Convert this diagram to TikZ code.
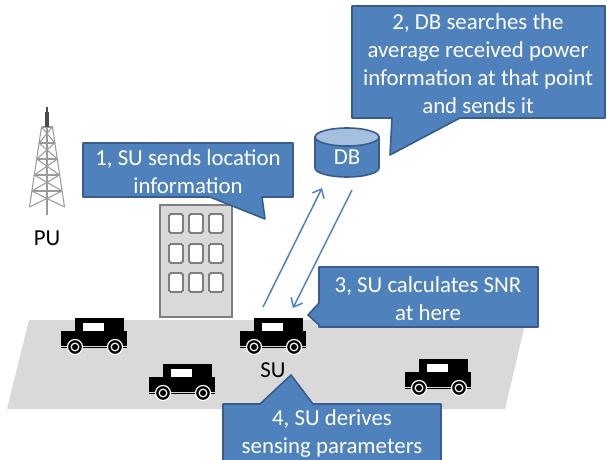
\documentclass[tikz,border=0pt]{standalone}
\usepackage{fontspec}
\setmainfont{Carlito}
\usetikzlibrary{arrows.meta}

\definecolor{boxblue}{HTML}{4F81BD}
\definecolor{boxedge}{HTML}{385D8A}
\definecolor{dbtop}{HTML}{A7BFDE}
\definecolor{roadgray}{HTML}{D9D9D9}
\definecolor{wallgray}{HTML}{7F7F7F}
\definecolor{towergray}{HTML}{9A9A9A}

\tikzset{
    callout/.style={fill=boxblue, draw=boxedge, line width=0.9pt, line join=round},
    boxtext/.style={text=white, align=center, font=\fontsize{13}{15.9}\selectfont},
    tag/.style={font=\fontsize{13}{15.9}\selectfont},
    window/.style={fill=white, draw=wallgray, line width=1.1pt, rounded corners=1pt},
    link/.style={draw=boxblue, line width=0.85pt, -{Straight Barb[length=1.5mm,width=2.6mm]}},
    car/.pic={
        \fill (14,0) rectangle (63,13);
        \fill (0,13) rectangle (66,27.5);
        \fill[white] (22,5) rectangle (43,13);
        \draw[line width=0.7pt] (0,29.8) -- (66,29.8);
        \foreach \w in {14,54} {
            \filldraw[fill=black, draw=white, line width=0.7pt] (\w,29) circle[radius=7.5];
            \draw[white, line width=0.7pt] (\w,29) circle[radius=3.8];
        }
    }
}

\begin{document}
\begin{tikzpicture}[x=0.02cm, y=-0.02cm]
        \useasboundingbox (0,0) rectangle (607,459);
        \clip (0,0) rectangle (607,459);

        %%%%%%%%%% Road %%%%%%%%%%
        \fill[roadgray] (29,320) -- (526,320) -- (505,409) -- (7,409) -- cycle;

        %%%%%%%%%% Tower %%%%%%%%%%
        \begin{scope}[draw=towergray, line width=0.6pt]
            \draw (41.5,127) -- (29.5,207);
            \draw (52.5,127) -- (64.5,207);
            \draw (47,127) -- (47,215);
            \foreach \y/\h/\yy/\hh in {127/5.5/143/7.9, 143/7.9/159/10.3, 159/10.3/175/12.7,
                                       175/12.7/191/15.1, 191/15.1/207/17.5} {
                \draw (47-\h,\y) -- (47+\h,\y);
                \draw (47-\h,\y) -- (47+\hh,\yy);
                \draw (47+\h,\y) -- (47-\hh,\yy);
            }
        \end{scope}
        \fill[black!70] (45,112) rectangle (49,127);
        \draw[black!70, line width=0.6pt] (47,107) -- (47,112);
        \node[tag] (pu) at (47,238) {PU};

        %%%%%%%%%% Building %%%%%%%%%%
        \filldraw[fill=roadgray, draw=wallgray, line width=1.1pt] (160,205) rectangle (232,317);
        \foreach \x in {169,189,209}
            \foreach \y in {214,244,273}
                \draw[window] (\x,\y) rectangle ++(14,19);

        %%%%%%%%%% Cars %%%%%%%%%%
        \pic at (61,318) {car};
        \pic at (240,318) {car};
        \pic at (149,364) {car};
        \pic at (405,359) {car};
        \node[tag] (su) at (273,370) {SU};

        %%%%%%%%%% Database %%%%%%%%%%
        \filldraw[fill=boxblue, draw=boxedge, line width=0.9pt]
            (315,137) -- (315,168) arc[start angle=180, end angle=0, x radius=32, y radius=9]
            -- (379,137) -- cycle;
        \filldraw[fill=dbtop, draw=boxedge, line width=0.9pt] (347,137) ellipse[x radius=32, y radius=9];
        \node[boxtext] (db) at (347,157) {DB};

        %%%%%%%%%% Links %%%%%%%%%%
        \coordinate (suup) at (263,307);
        \coordinate (dbin) at (322,188);
        \coordinate (dbout) at (352,190);
        \coordinate (sudown) at (293,308);
        \draw[link] (suup) -- (dbin);
        \draw[link] (dbout) -- (sudown);

        %%%%%%%%%% Callouts %%%%%%%%%%
        \draw[callout] (83,143) -- (293,143) -- (293,197) -- (262,197) -- (265,219)
            -- (210,197) -- (83,197) -- cycle;
        \draw[callout] (352,6) -- (605,6) -- (605,118) -- (460,118) -- (390,155)
            -- (392,118) -- (352,118) -- cycle;
        \draw[callout] (319,267) -- (538,267) -- (538,327) -- (319,327) -- (319,325)
            -- (308,315) -- (319,303) -- cycle;
        \draw[callout] (223,470) -- (223,404) -- (260,404) -- (291,375) -- (313,404)
            -- (441,404) -- (441,470);

        %%%%%%%%%% Text %%%%%%%%%%
        \node[boxtext] (note1) at (188,171.5) {1, SU sends location\\information};
        \node[boxtext] (note2) at (478,63.5) {2, DB searches the\\average received power\\information at that point\\and sends it};
        \node[boxtext] (note3) at (428,298.5) {3, SU calculates SNR\\at here};
        \node[boxtext] (note4) at (332,433.5) {4, SU derives\\sensing parameters};
\end{tikzpicture}
\end{document}
